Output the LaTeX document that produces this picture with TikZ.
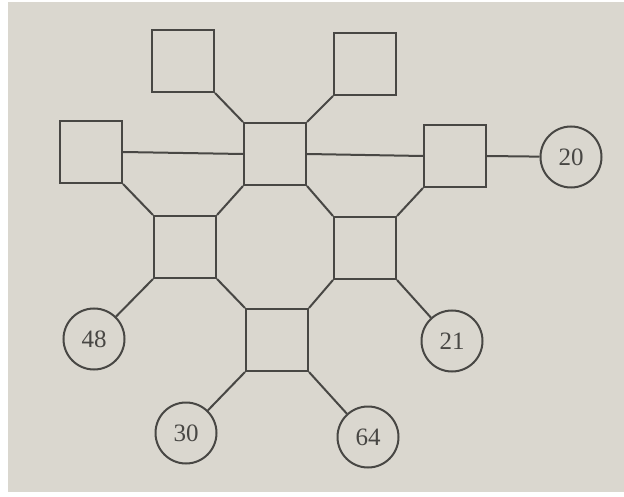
\documentclass[tikz,border=0pt]{standalone}
\usepackage{fontspec}
\setmainfont{Liberation Serif}
\definecolor{paperGrey}{RGB}{218,215,207}
\definecolor{inkGrey}{RGB}{72,71,68}
\usetikzlibrary{positioning}

\tikzset{
  box/.style={draw=inkGrey, line width=2pt, minimum size=62pt, inner sep=0pt},
  ring/.style={circle, draw=inkGrey, line width=2pt, minimum size=61pt, inner sep=0pt,
               text=inkGrey, font=\fontsize{25}{25}\selectfont},
  link/.style={draw=inkGrey, line width=2pt}
}

\begin{document}
\begin{tikzpicture}[x=1pt, y=-1pt]
  % page and paper
  \fill[white] (0,0) rectangle (624,497);
  \fill[paperGrey] (8,2) rectangle (624,492);
  \useasboundingbox (0,0) rectangle (624,497);

  % squares
  \node[box] (tl) at (183,61) {};
  \node[box] (tr) at (365,64) {};
  \node[box] (lf) at (91,152) {};
  \node[box] (ct) at (275,154) {};
  \node[box] (rt) at (455,156) {};
  \node[box] (ml) at (185,247) {};
  \node[box] (mr) at (365,248) {};
  \node[box] (bt) at (277,340) {};

  % circles with numbers
  \node[ring] (n20) at (571,157) {20};
  \node[ring] (n48) at (94,339) {48};
  \node[ring] (n21) at (452,341) {21};
  \node[ring] (n30) at (186,433) {30};
  \node[ring] (n64) at (368,437) {64};

  % connectors
  \draw[link] (tl.south east) -- (ct.north west);
  \draw[link] (tr.south west) -- (ct.north east);
  \draw[link] (lf.east) -- (ct.west);
  \draw[link] (ct.east) -- (rt.west);
  \draw[link] (rt.east) -- (n20);
  \draw[link] (lf.south east) -- (ml.north west);
  \draw[link] (ct.south west) -- (ml.north east);
  \draw[link] (ct.south east) -- (mr.north west);
  \draw[link] (rt.south west) -- (mr.north east);
  \draw[link] (ml.south west) -- (n48);
  \draw[link] (ml.south east) -- (bt.north west);
  \draw[link] (mr.south west) -- (bt.north east);
  \draw[link] (mr.south east) -- (n21);
  \draw[link] (bt.south west) -- (n30);
  \draw[link] (bt.south east) -- (n64);
\end{tikzpicture}
\end{document}
